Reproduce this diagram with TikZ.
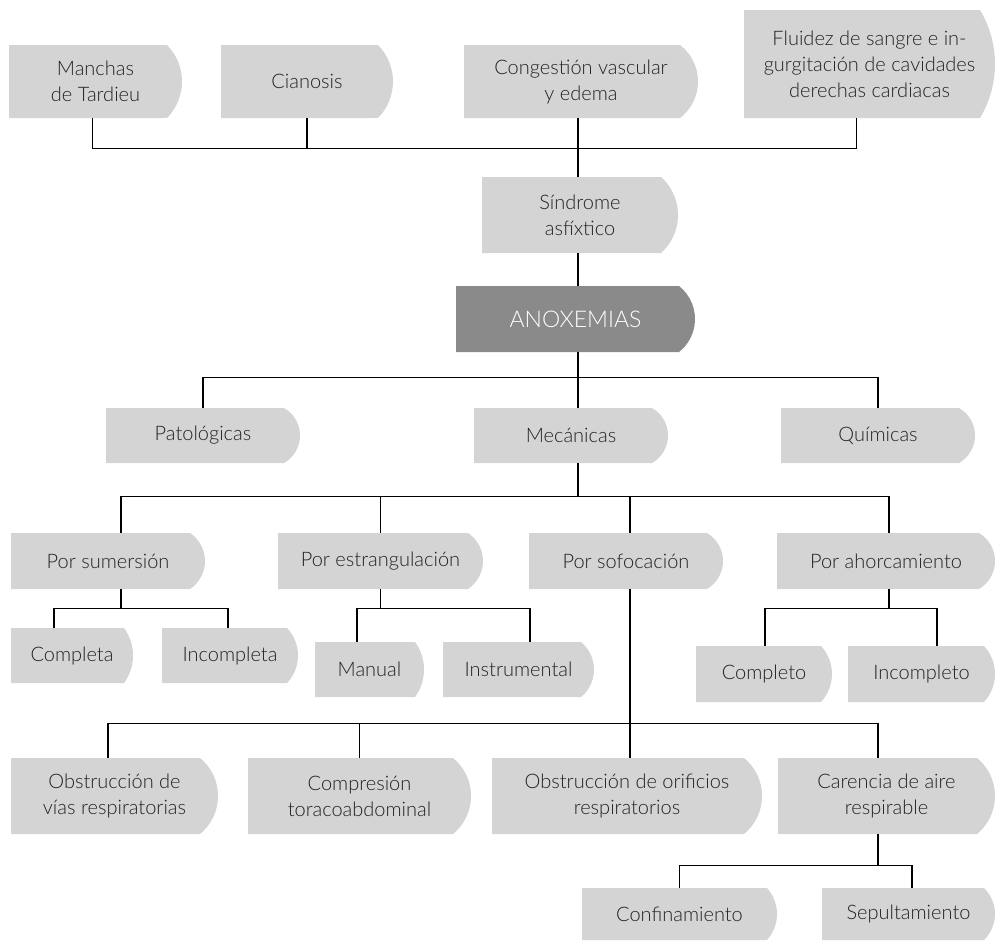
\documentclass[tikz,border=0pt]{standalone}
\usepackage{fontspec}
\setmainfont{Lato Light}
\definecolor{boxgray}{HTML}{D4D4D4}
\definecolor{darkgray}{HTML}{8A8A8A}
\definecolor{ink}{HTML}{222222}

\tikzset{
  lbl/.style={font=\fontsize{20}{26}\selectfont, align=center, inner sep=0pt},
  light fill/.style={fill=boxgray},
  light text/.style={text=ink},
  dark fill/.style={fill=darkgray},
  dark text/.style={text=white, font=\fontsize{23}{28}\selectfont},
  link/.style={draw=black, line width=1.2pt},
}

% Tab-shaped box: flat left side, right side bulging as a circular arc.
% #1 name, #2 left, #3 top, #4 right (outermost point), #5 bottom,
% #6 bulge of the arc, #7 light/dark, #8 text
\newcommand\tabbox[8]{%
  \pgfmathsetmacro\tabH{#5-#3}%
  \pgfmathsetmacro\tabR{(\tabH*\tabH/4+#6*#6)/(2*#6)}%
  \pgfmathsetmacro\tabA{asin(\tabH/(2*\tabR))}%
  \fill[#7 fill] (#2,#3) -- ({#4-#6},#3)
    arc[start angle=-\tabA, end angle=\tabA, radius=\tabR] -- (#2,#5) -- cycle;
  \node[lbl, #7 text, minimum width={#4-#2}, minimum height={#5-#3}]
    (#1) at ({(#2+#4)/2},{(#3+#5)/2}) {#8};%
}

\begin{document}
\begin{tikzpicture}[x=1pt, y=-1pt]
\useasboundingbox (0,0) rectangle (995,940);

% signs
\tabbox{manchas}{9}{45}{182}{118}{15}{light}{Manchas\\de Tardieu}
\tabbox{cianosis}{221}{45}{393}{118}{15}{light}{Cianosis}
\tabbox{congestion}{464}{45}{698}{118}{18}{light}{Congestión vascular\\y edema}
\tabbox{fluidez}{744}{10}{995}{118}{15}{light}{Fluidez de sangre e in-\\gurgitación de cavidades\\derechas cardiacas}
\tabbox{sindrome}{482}{177}{678}{253}{17}{light}{Síndrome\\asfíxtico}
\tabbox{anox}{456}{286}{695}{352}{16}{dark}{ANOXEMIAS}

% kinds
\tabbox{pato}{106}{408}{300}{463}{16}{light}{Patológicas}
\tabbox{meca}{474}{408}{668}{463}{16}{light}{Mecánicas}
\tabbox{quim}{781}{408}{975}{463}{16}{light}{Químicas}

% mechanical anoxemias
\tabbox{sumer}{11}{533}{205}{589}{15}{light}{Por sumersión}
\tabbox{estran}{278}{533}{483}{589}{15}{light}{Por estrangulación}
\tabbox{sofoc}{529}{533}{723}{589}{16}{light}{Por sofocación}
\tabbox{ahorc}{777}{533}{995}{589}{16}{light}{Por ahorcamiento}

\tabbox{completa}{11}{628}{133}{683}{9}{light}{Completa}
\tabbox{incompleta}{162}{628}{298}{683}{11}{light}{Incompleta}
\tabbox{manual}{315}{642}{424}{697}{9}{light}{Manual}
\tabbox{instrum}{443}{642}{594}{697}{13}{light}{Instrumental}
\tabbox{completo}{696}{646}{832}{702}{11}{light}{Completo}
\tabbox{incompleto}{848}{646}{995}{702}{11}{light}{Incompleto}

% suffocation
\tabbox{obsvias}{11}{758}{218}{834}{18}{light}{Obstrucción de\\vías respiratorias}
\tabbox{compres}{248}{758}{471}{834}{18}{light}{Compresión\\toracoabdominal}
\tabbox{obsorif}{492}{758}{762}{834}{18}{light}{Obstrucción de orificios\\respiratorios}
\tabbox{carencia}{778}{758}{995}{834}{18}{light}{Carencia de aire\\respirable}
\tabbox{confin}{582}{888}{777}{940}{10}{light}{Confinamiento}
\tabbox{sepult}{822}{888}{995}{940}{11}{light}{Sepultamiento}

% connectors
\draw[link] ([xshift=-3]manchas.south) -- ++(0,30) -| ([xshift=-13]fluidez.south);
\draw[link] (cianosis.south) -- ++(0,30);
\draw[link] ([xshift=-3]congestion.south) -- ([xshift=-2]sindrome.north);
\draw[link] ([xshift=-2]sindrome.south) -- ([xshift=2.5]anox.north);

\draw[link] ([xshift=2.5]anox.south) -- ++(0,26);
\draw[link] (pato.north) -- ++(0,-30) -| (quim.north);
\draw[link] ([xshift=7]meca.north) -- ++(0,-30);

\draw[link] ([xshift=7]meca.south) -- ++(0,34);
\draw[link] ([xshift=13]sumer.north) -- ++(0,-36) -| ([xshift=3]ahorc.north);
\draw[link] (estran.north) -- ++(0,-36);
\draw[link] ([xshift=4]sofoc.north) -- ++(0,-36);

\draw[link] ([xshift=13]sumer.south) -- ++(0,20);
\draw[link] ([xshift=-18]completa.north) -- ++(0,-19) -| ([xshift=-2]incompleta.north);
\draw[link] (estran.south) -- ++(0,20);
\draw[link] ([xshift=-12.5]manual.north) -- ++(0,-33) -| ([xshift=11.5]instrum.north);
\draw[link] ([xshift=3]ahorc.south) -- ++(0,20);
\draw[link] ([xshift=1]completo.north) -- ++(0,-37) -| ([xshift=15.5]incompleto.north);

\draw[link] ([xshift=4]sofoc.south) -- ([xshift=3]obsorif.north);
\draw[link] ([xshift=-6.5]obsvias.north) -- ++(0,-34) -| ([xshift=-8.5]carencia.north);
\draw[link] (compres.north) -- ++(0,-34);

\draw[link] ([xshift=-8.5]carencia.south) -- ++(0,32);
\draw[link] (confin.north) -- ++(0,-22) -| ([xshift=3.5]sepult.north);
\end{tikzpicture}
\end{document}
